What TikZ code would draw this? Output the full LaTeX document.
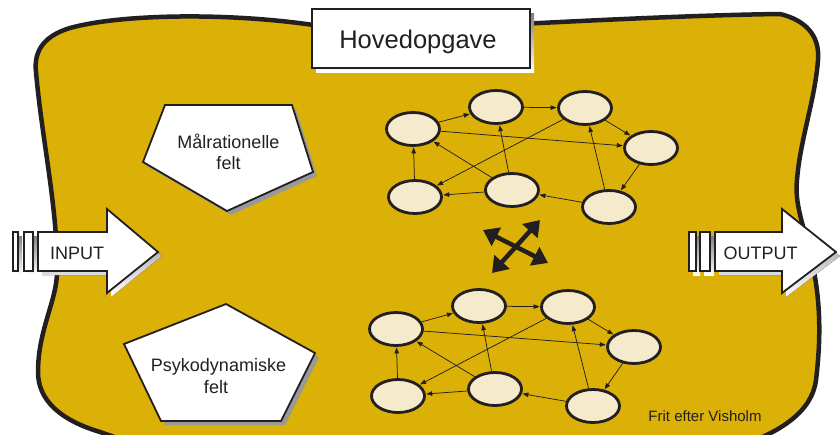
\documentclass[tikz,border=0pt]{standalone}
\usepackage{fontspec}
\setmainfont{Liberation Sans}
\usetikzlibrary{shapes.geometric,arrows.meta}
\definecolor{gold}{HTML}{DBB107}
\definecolor{cream}{HTML}{F6EACC}
\definecolor{shade}{HTML}{999999}
\definecolor{ink}{HTML}{231F20}
\tikzset{bigtip/.tip={Triangle[length=15pt,width=20pt]}}
\begin{document}
\begin{tikzpicture}[x=1pt,y=-1pt,
  cell/.style={ellipse, draw=ink, line width=2.8pt, fill=cream, minimum width=53pt, minimum height=33pt, inner sep=0pt},
  link/.style={draw=ink, line width=0.75pt, -{Triangle[length=6pt,width=4.5pt]}, shorten >=0.5pt},
  shadowfill/.style={fill=shade},
  whiteshape/.style={fill=white, draw=ink, line width=1.8pt, line join=miter},
  label/.style={text=ink, inner sep=0pt, anchor=base},
  crossarrow/.style={ink, line width=4.5pt, bigtip-bigtip}
]
\useasboundingbox (0,0) rectangle (840,434);
\clip (0,0) rectangle (840,434);

% blob
\path[fill=gold, draw=ink, line width=4.5pt, line join=round]
  (320,26) .. controls (230,12) and (120,14) .. (70,28)
  .. controls (40,37) and (34,55) .. (36,72)
  .. controls (42,140) and (58,210) .. (57,272)
  .. controls (57,300) and (38,330) .. (38,372)
  .. controls (38,400) and (60,420) .. (100,432)
  -- (140,446) -- (740,446)
  .. controls (780,432) and (812,412) .. (816,380)
  .. controls (822,330) and (820,290) .. (808,245)
  .. controls (800,215) and (795,200) .. (797,180)
  .. controls (800,140) and (815,100) .. (818,60)
  .. controls (820,35) and (805,20) .. (780,14)
  .. controls (700,15) and (600,20) .. (520,24)
  -- cycle;

% title box
\fill[shade] (316,13) rectangle (534,72);
\draw[fill=white, draw=ink, line width=1.4pt] (312,9) rectangle (530,68);
\node[label, font=\fontsize{25.5}{30}\selectfont] (title) at (418,48) {Hovedopgave};

% pentagons
\fill[shadowfill, shift={(4,4)}] (165,105) -- (292,105) -- (313,172) -- (227,211) -- (143,162) -- cycle;
\path[whiteshape] (165,105) -- (292,105) -- (313,172) -- (227,211) -- (143,162) -- cycle;
\node[label, font=\fontsize{18}{21}\selectfont] (mr1) at (228.5,148) {Målrationelle};
\node[label, font=\fontsize{18}{21}\selectfont] (mr2) at (228.5,169) {felt};

\fill[shadowfill, shift={(4,4)}] (226,304) -- (315,353) -- (281,421) -- (161,421) -- (124,344) -- cycle;
\path[whiteshape] (226,304) -- (315,353) -- (281,421) -- (161,421) -- (124,344) -- cycle;
\node[label, font=\fontsize{18}{21}\selectfont] (pd1) at (218.5,371) {Psykodynamiske};
\node[label, font=\fontsize{18}{21}\selectfont] (pd2) at (216,393) {felt};

% INPUT arrow
\begin{scope}[shift={(4,4)}]
  \fill[shade] (38,232) -- (107,232) -- (107,209) -- (158,252) -- (107,293) -- (107,271) -- (38,271) -- cycle;
  \fill[shade] (13,232) rectangle (18,271);
  \fill[shade] (24,232) rectangle (33,271);
\end{scope}
\path[whiteshape] (13,232) rectangle (18,271);
\path[whiteshape] (24,232) rectangle (33,271);
\path[whiteshape] (38,232) -- (107,232) -- (107,209) -- (158,252) -- (107,293) -- (107,271) -- (38,271) -- cycle;
\node[label, font=\fontsize{18}{21}\selectfont] (in) at (77,259) {INPUT};

% OUTPUT arrow
\begin{scope}[shift={(4,4)}]
  \fill[shade] (715,232) -- (782,232) -- (782,209) -- (836,252) -- (782,293) -- (782,271) -- (715,271) -- cycle;
  \fill[shade] (689,232) rectangle (696,271);
  \fill[shade] (700,232) rectangle (710,271);
\end{scope}
\path[whiteshape] (689,232) rectangle (696,271);
\path[whiteshape] (700,232) rectangle (710,271);
\path[whiteshape] (715,232) -- (782,232) -- (782,209) -- (836,252) -- (782,293) -- (782,271) -- (715,271) -- cycle;
\node[label, font=\fontsize{18}{21}\selectfont] (out) at (760.5,259) {OUTPUT};

% four-way arrow
\coordinate (q1) at (483,230);
\coordinate (q2) at (548,263);
\coordinate (q3) at (540,220);
\coordinate (q4) at (492,273);
\draw[crossarrow] (q1) -- (q2);
\draw[crossarrow] (q4) -- (q3);

% top network
\node[cell] (a) at (413,129) {};
\node[cell] (b) at (496,107) {};
\node[cell] (c) at (585,108) {};
\node[cell] (d) at (651,148) {};
\node[cell] (e) at (415,197) {};
\node[cell] (f) at (512,190) {};
\node[cell] (g) at (609,207) {};
\draw[link] (a) -- (b);
\draw[link] (b) -- (c);
\draw[link] (c) -- (d);
\draw[link] (a) -- (d);
\draw[link] (d) -- (g);
\draw[link] (e) -- (a);
\draw[link] (f) -- (b);
\draw[link] (f) -- (a);
\draw[link] (f) -- (e);
\draw[link] (c) -- (e);
\draw[link] (g) -- (c);
\draw[link] (g) -- (f);

% bottom network
\node[cell] (a2) at (396,329) {};
\node[cell] (b2) at (479,306) {};
\node[cell] (c2) at (568,307) {};
\node[cell] (d2) at (634,347) {};
\node[cell] (e2) at (398,396) {};
\node[cell] (f2) at (495,389) {};
\node[cell] (g2) at (593,406) {};
\draw[link] (a2) -- (b2);
\draw[link] (b2) -- (c2);
\draw[link] (c2) -- (d2);
\draw[link] (a2) -- (d2);
\draw[link] (d2) -- (g2);
\draw[link] (e2) -- (a2);
\draw[link] (f2) -- (b2);
\draw[link] (f2) -- (a2);
\draw[link] (f2) -- (e2);
\draw[link] (c2) -- (e2);
\draw[link] (g2) -- (c2);
\draw[link] (g2) -- (f2);

\node[label, font=\fontsize{15}{18}\selectfont] (credit) at (705,421) {Frit efter Visholm};
\end{tikzpicture}
\end{document}
